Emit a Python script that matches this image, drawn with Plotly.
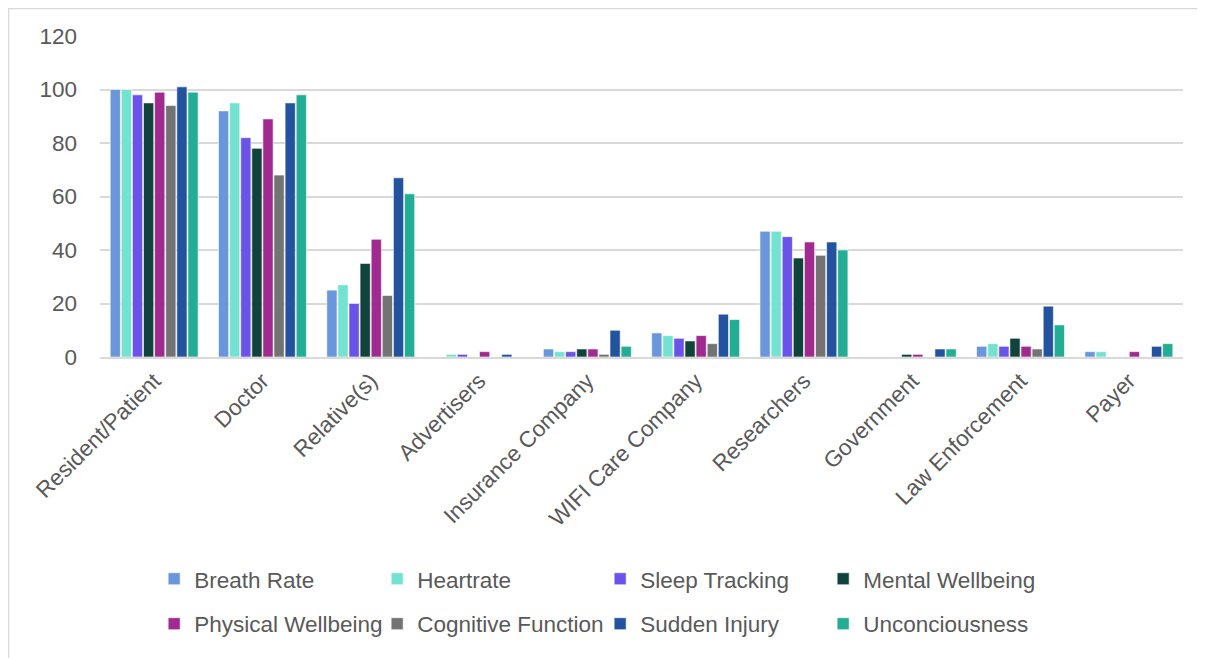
import plotly.graph_objects as go

categories = ["Resident/Patient", "Doctor", "Relative(s)", "Advertisers", "Insurance Company",
              "WIFI Care Company", "Researchers", "Government", "Law Enforcement", "Payer"]

breath_rate = [100, 92, 25, 0, 3, 9, 47, 0, 4, 2]
heartrate = [100, 95, 27, 1, 2, 8, 47, 0, 5, 2]
sleep_tracking = [98, 82, 20, 1, 2, 7, 45, 0, 4, 0]
mental_wellbeing = [95, 78, 35, 0, 3, 6, 37, 1, 7, 0]
physical_wellbeing = [99, 89, 44, 2, 3, 8, 43, 1, 4, 2]
cognitive_function = [94, 68, 23, 0, 1, 5, 38, 0, 3, 0]
sudden_injury = [101, 95, 67, 1, 10, 16, 43, 3, 19, 4]
unconciousness = [99, 98, 61, 0, 4, 14, 40, 3, 12, 5]

series = [
    ("Breath Rate", breath_rate, "#6A96DB"),
    ("Heartrate", heartrate, "#74E2D1"),
    ("Sleep Tracking", sleep_tracking, "#6B52E8"),
    ("Mental Wellbeing", mental_wellbeing, "#10433B"),
    ("Physical Wellbeing", physical_wellbeing, "#A02A8F"),
    ("Cognitive Function", cognitive_function, "#737373"),
    ("Sudden Injury", sudden_injury, "#23539F"),
    ("Unconciousness", unconciousness, "#22AD94"),
]

FONT = "Liberation Sans, Arial, sans-serif"
TEXT = "#595959"

fig = go.Figure()
for i, (name, vals, color) in enumerate(series):
    fig.add_trace(go.Bar(
        name=name, x=categories, y=vals,
        marker=dict(color=color, line=dict(color="white", width=0.6)),
        legend="legend" if i < 4 else "legend2",
    ))

# light frame (left and top edges visible, like the source screenshot)
fig.add_shape(type="rect", xref="paper", yref="paper",
              x0=-0.0845, x1=1.2, y0=-1.2, y1=1.086,
              line=dict(color="#d9d9d9", width=1.5), layer="below")

legend_common = dict(
    orientation="h", x=0.05, xanchor="left", yanchor="top",
    entrywidth=178, entrywidthmode="pixels",
    font=dict(size=22.5, color=TEXT, family=FONT),
    bgcolor="rgba(0,0,0,0)",
)

fig.update_layout(
    width=1197, height=650,
    margin=dict(l=92, r=22, t=28, b=301, autoexpand=False),
    paper_bgcolor="white", plot_bgcolor="white",
    barmode="group", bargap=0.18, bargroupgap=0.08,
    font=dict(family=FONT, color=TEXT, size=22),
    showlegend=True,
    legend=dict(y=-0.625, **legend_common),
    legend2=dict(y=-0.765, **legend_common),
)
fig.update_xaxes(
    tickangle=-45, tickfont=dict(size=22.5, color=TEXT), automargin=False,
    showgrid=False, showline=True, linecolor="#d9d9d9", linewidth=1.5,
)
fig.update_yaxes(
    range=[0, 120], dtick=20, tickfont=dict(size=22.5, color=TEXT), automargin=False,
    gridcolor="#d9d9d9", gridwidth=1.5, zeroline=False,
    showline=False, ticklabelstandoff=22,
)

fig.write_html("out.html")
